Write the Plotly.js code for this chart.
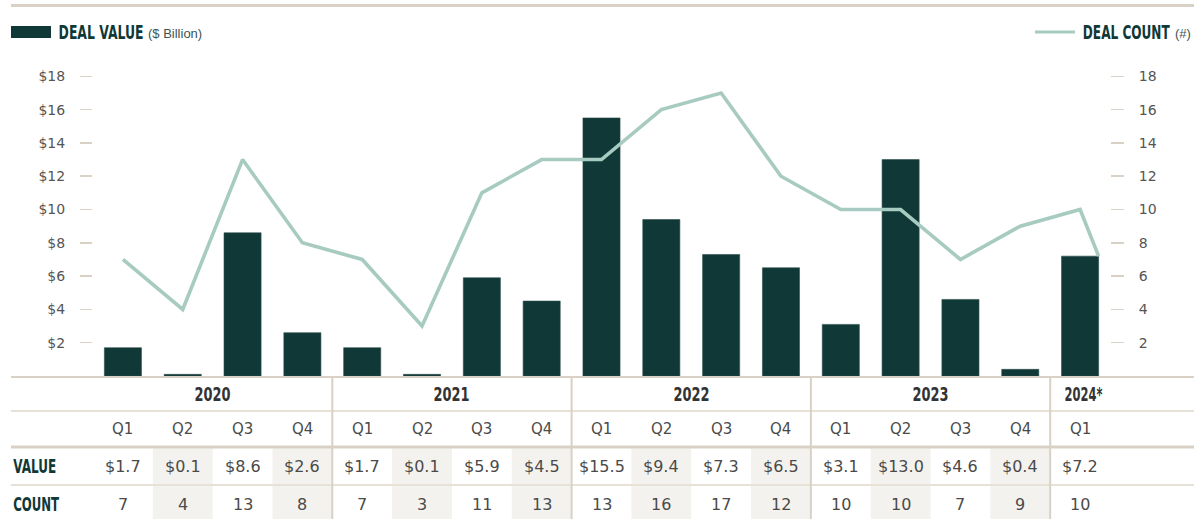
<!DOCTYPE html>
<html>
<head>
<meta charset="utf-8">
<script src="https://cdn.plot.ly/plotly-3.0.1.min.js"></script>
<style>
html,body{margin:0;padding:0;background:#fff;}
#chart{width:1194px;height:519px;}
</style>
</head>
<body>
<div id="chart"></div>
<script>
// ---- data ----
const years = ['2020', '2021', '2022', '2023', '2024*'];
const yearQuarterCounts = [4, 4, 4, 4, 1];
const quarters = ['Q1','Q2','Q3','Q4','Q1','Q2','Q3','Q4','Q1','Q2','Q3','Q4','Q1','Q2','Q3','Q4','Q1'];
const dealValue = [1.7, 0.1, 8.6, 2.6, 1.7, 0.1, 5.9, 4.5, 15.5, 9.4, 7.3, 6.5, 3.1, 13.0, 4.6, 0.4, 7.2];
const dealCount = [7, 4, 13, 8, 7, 3, 11, 13, 13, 16, 17, 12, 10, 10, 7, 9, 10];
// the count line in the source ends with a short tail at the edge of the last bar
const countTailX = [16.31];
const countTailY = [7.2];
const leftTicks = [2, 4, 6, 8, 10, 12, 14, 16, 18];
const leftTickText = leftTicks.map(v => '$' + v);
const rightTicks = [2, 4, 6, 8, 10, 12, 14, 16, 18];

// ---- style / geometry ----
const DARK = '#0f3836';
const LINEC = '#a8cbc1';
const BEIGE = '#d9d1c5';
const BEIGE_L = '#e7e1d8';
const SHADE = '#f4f2ee';
const TXT = '#4a4a4a';
const BOLDF = '"DejaVu Sans", sans-serif';
const SANS = '"DejaVu Sans", sans-serif';

const Wd = 1194, Ht = 519;
const L = 93, R = 1110, T = 68, B = 376;
const W = R - L, H = B - T;
const px = x => (x - L) / W;
const py = y => (B - y) / H;

const idx = dealValue.map((_, i) => i);

const traces = [
  {
    type: 'bar', x: idx, y: dealValue, width: 0.62,
    marker: {color: DARK, line: {color: '#2c4f4c', width: 0.6}},
    hoverinfo: 'skip', yaxis: 'y'
  },
  {
    type: 'scatter', mode: 'lines',
    x: idx.concat(countTailX), y: dealCount.concat(countTailY),
    line: {color: LINEC, width: 3.6}, hoverinfo: 'skip', yaxis: 'y2'
  }
];

const shapes = [];
const annotations = [];
const condensed = []; // {i: annotation index, w: target text width in px}
function addCond(ann, w) {
  condensed.push({i: annotations.length, w: w});
  annotations.push(ann);
}

// top rule
shapes.push({type:'line', xref:'paper', yref:'paper', x0:px(11), x1:px(1194), y0:py(5.5), y1:py(5.5), line:{color:BEIGE, width:3}});
// table shading for alternating columns (value + count rows)
idx.forEach(i => {
  if (i % 2 === 1) {
    shapes.push({type:'rect', xref:'x', yref:'paper', x0:i-0.5, x1:i+0.5, y0:py(448), y1:py(519), fillcolor:SHADE, line:{width:0}, layer:'below'});
  }
});
// horizontal table rules
shapes.push({type:'line', xref:'paper', yref:'paper', x0:px(11), x1:px(1194), y0:py(377), y1:py(377), line:{color:BEIGE, width:2}});
shapes.push({type:'line', xref:'paper', yref:'paper', x0:px(11), x1:px(1194), y0:py(411), y1:py(411), line:{color:BEIGE_L, width:2}});
shapes.push({type:'line', xref:'paper', yref:'paper', x0:px(11), x1:px(1194), y0:py(447), y1:py(447), line:{color:BEIGE, width:3}});
shapes.push({type:'line', xref:'paper', yref:'paper', x0:px(11), x1:px(1194), y0:py(485), y1:py(485), line:{color:BEIGE_L, width:2}});
// year separators + year labels
let acc = 0;
yearQuarterCounts.forEach((n, k) => {
  const start = acc; acc += n;
  if (k < yearQuarterCounts.length - 1) {
    shapes.push({type:'line', xref:'x', yref:'paper', x0:acc-0.5, x1:acc-0.5, y0:py(378), y1:py(519), line:{color:BEIGE, width:2}});
  }
  const single = n === 1;
  addCond({xref:'x', yref:'paper', x:(start + acc - 1) / 2, y:py(394), xshift: single ? 3 : 0, text: years[k],
    showarrow:false, xanchor:'center', yanchor:'middle', font:{family:BOLDF, size:19, weight:'bold', color:'#333333'}},
    single ? 38 : 36);
});

// quarter / value / count rows
idx.forEach(i => {
  annotations.push({xref:'x', yref:'paper', x:i, y:py(429), text:quarters[i], showarrow:false,
    xanchor:'center', yanchor:'middle', font:{family:SANS, size:15, color:TXT}});
  annotations.push({xref:'x', yref:'paper', x:i, y:py(466), text:'$' + dealValue[i].toFixed(1), showarrow:false,
    xanchor:'center', yanchor:'middle', font:{family:SANS, size:16, color:TXT}});
  annotations.push({xref:'x', yref:'paper', x:i, y:py(504), text:String(dealCount[i]), showarrow:false,
    xanchor:'center', yanchor:'middle', font:{family:SANS, size:16, color:TXT}});
});
addCond({xref:'paper', yref:'paper', x:px(34.5), y:py(466), text:'VALUE', showarrow:false,
  xanchor:'center', yanchor:'middle', font:{family:BOLDF, size:20, weight:'bold', color:DARK}}, 43);
addCond({xref:'paper', yref:'paper', x:px(36), y:py(504), text:'COUNT', showarrow:false,
  xanchor:'center', yanchor:'middle', font:{family:BOLDF, size:20, weight:'bold', color:DARK}}, 46);

// legends
shapes.push({type:'rect', xref:'paper', yref:'paper', x0:px(11), x1:px(51), y0:py(38), y1:py(26), fillcolor:DARK, line:{width:0}});
addCond({xref:'paper', yref:'paper', x:px(100.5), y:py(32), text:'DEAL VALUE', showarrow:false,
  xanchor:'center', yanchor:'middle', font:{family:BOLDF, size:19, weight:'bold', color:DARK}}, 85);
annotations.push({xref:'paper', yref:'paper', x:px(146), y:py(33), text:'($ Billion)', showarrow:false,
  xanchor:'left', yanchor:'middle', font:{family:'"Liberation Sans", sans-serif', size:13, color:'#3b5553'}});
shapes.push({type:'line', xref:'paper', yref:'paper', x0:px(1035), x1:px(1075), y0:py(32), y1:py(32), line:{color:LINEC, width:3}});
annotations.push({xref:'paper', yref:'paper', x:px(1193), y:py(33), text:'(#)', showarrow:false,
  xanchor:'right', yanchor:'middle', font:{family:'"Liberation Sans", sans-serif', size:13, color:'#3b5553'}});
addCond({xref:'paper', yref:'paper', x:px(1126.5), y:py(32), text:'DEAL COUNT', showarrow:false,
  xanchor:'center', yanchor:'middle', font:{family:BOLDF, size:19, weight:'bold', color:DARK}}, 87);

const layout = {
  width: Wd, height: Ht,
  margin: {l: L, r: Wd - R, t: T, b: Ht - B, pad: 0},
  paper_bgcolor: '#ffffff', plot_bgcolor: 'rgba(0,0,0,0)',
  showlegend: false,
  bargap: 0.38,
  xaxis: {range: [-0.5, 16.5], showticklabels: false, ticks: '', showgrid: false, zeroline: false, showline: false, fixedrange: true},
  yaxis: {range: [0, 18.5], tickvals: leftTicks, ticktext: leftTickText, ticks: 'outside', ticklen: 12,
    tickcolor: BEIGE, tickwidth: 1.5, showgrid: false, zeroline: false, showline: false,
    ticklabelstandoff: 12, tickfont: {family: SANS, size: 14, color: '#555555'}, fixedrange: true},
  yaxis2: {range: [0, 18.5], overlaying: 'y', side: 'right', tickvals: rightTicks, ticks: 'outside', ticklen: 13,
    tickcolor: BEIGE, tickwidth: 1.5, showgrid: false, zeroline: false, showline: false,
    ticklabelstandoff: 12, tickfont: {family: SANS, size: 14, color: '#555555'}, fixedrange: true},
  shapes: shapes,
  annotations: annotations
};

Plotly.newPlot('chart', traces, layout, {displayModeBar: false, staticPlot: true}).then(gd => {
  // condense the bold label texts horizontally (no condensed font is installed)
  condensed.forEach(c => {
    const g = gd.querySelector('.annotation[data-index="' + c.i + '"]');
    if (!g) return;
    const t = g.querySelector('text.annotation-text');
    if (!t) return;
    const natural = t.getComputedTextLength();
    if (!natural) return;
    const s = c.w / natural;
    const cx = parseFloat(t.getAttribute('x')) || 0;
    t.setAttribute('transform', 'translate(' + cx + ',0) scale(' + s + ',1) translate(' + (-cx) + ',0)');
    const rect = g.querySelector('rect.bg');
    if (rect) {
      const ow = parseFloat(rect.getAttribute('width')) || 0;
      const ox = parseFloat(rect.getAttribute('x')) || 0;
      const nw = ow * s;
      rect.setAttribute('x', ox + (ow - nw) / 2);
      rect.setAttribute('width', nw);
    }
  });
});
</script>
</body>
</html>
